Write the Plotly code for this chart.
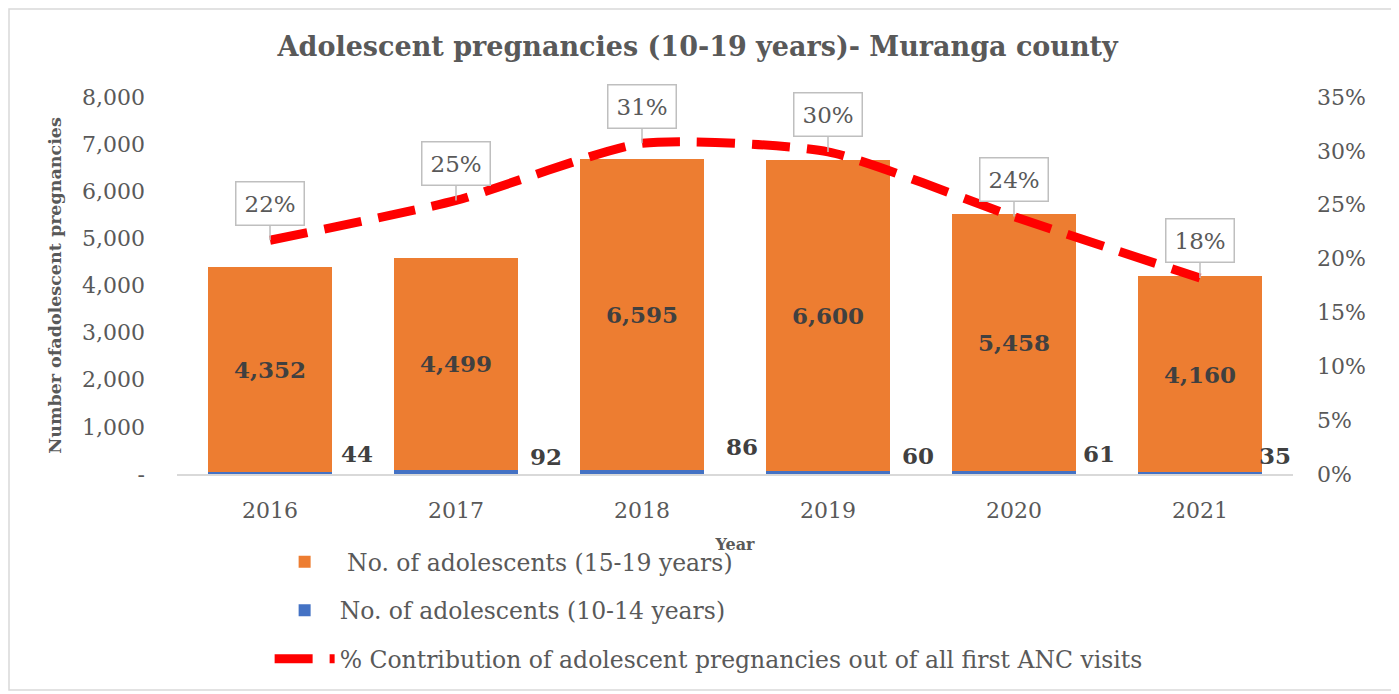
import plotly.graph_objects as go

years = ["2016", "2017", "2018", "2019", "2020", "2021"]
age_15_19 = [4352, 4499, 6595, 6600, 5458, 4160]
age_10_14 = [44, 92, 86, 60, 61, 35]
pct_contrib = [0.217, 0.254, 0.307, 0.299, 0.239, 0.182]

left_ticks = [0, 1000, 2000, 3000, 4000, 5000, 6000, 7000, 8000]
left_tick_text = ["-", "1,000", "2,000", "3,000", "4,000", "5,000", "6,000", "7,000", "8,000"]
right_ticks = [0, 0.05, 0.10, 0.15, 0.20, 0.25, 0.30, 0.35]

# label placement style for the small 10-14 labels (pixel offsets)
small_label_xshift = [87, 90, 100, 90, 85, 75]
small_label_yshift = [5, 2, 12, 3, 5, 3]

FONT = "DejaVu Serif"
GRAY = "#595959"
DARK = "#404040"

fig = go.Figure()

fig.add_trace(go.Bar(
    x=years, y=age_10_14, name="No. of adolescents (10-14 years)",
    marker=dict(color="#4472C4", line=dict(width=0)),
    legendrank=2, legendgroup="b",
))
fig.add_trace(go.Bar(
    x=years, y=age_15_19, name=" No. of adolescents (15-19 years)",
    marker=dict(color="#ED7D31", line=dict(width=0)),
    text=[f"{v:,}" for v in age_15_19], textposition="inside",
    insidetextanchor="middle",
    textfont=dict(family=FONT, size=23, color=DARK, weight="bold"),
    legendrank=1, legendgroup="a",
))
fig.add_trace(go.Scatter(
    x=years, y=pct_contrib, yaxis="y2", mode="lines",
    name="% Contribution of adolescent pregnancies out of all first ANC visits",
    line=dict(color="#FF0000", width=9, dash="38px,17px", shape="spline", smoothing=0.6),
    legendrank=3, legendgroup="c",
))

annotations = []
for i, v in enumerate(age_10_14):
    annotations.append(dict(
        x=i, y=0, xref="x", yref="y", text=f"<b>{v}</b>", showarrow=False,
        xshift=small_label_xshift[i], yanchor="bottom", yshift=small_label_yshift[i],
        font=dict(family=FONT, size=23, color=DARK),
    ))
for i, p in enumerate(pct_contrib):
    annotations.append(dict(
        x=i, y=p, xref="x", yref="y2", text=f"{round(p*100)}%",
        showarrow=True, ax=0, ay=-37, arrowhead=0, arrowwidth=1.5, arrowcolor="#BFBFBF",
        bordercolor="#BFBFBF", borderwidth=1.5, borderpad=8, bgcolor="white",
        font=dict(family=FONT, size=23, color=GRAY),
    ))

fig.update_layout(
    width=1399, height=694,
    barmode="stack", bargap=0.33,
    paper_bgcolor="white", plot_bgcolor="white",
    margin=dict(l=169, r=114, t=89, b=228),
    font=dict(family=FONT, color=GRAY),
    title=dict(text="<b>Adolescent pregnancies (10-19 years)- Muranga county</b>",
               x=0.493, xref="container", xanchor="center", y=0.944, yanchor="middle",
               font=dict(family=FONT, size=27, color=GRAY)),
    xaxis=dict(type="category", range=[-0.5, 5.5], showline=True, linecolor="#D9D9D9",
               linewidth=1.5, ticks="", ticklabelstandoff=16,
               tickfont=dict(family=FONT, size=22, color=GRAY),
               title=dict(text="<b>Year</b>", font=dict(family=FONT, size=16, color=GRAY), standoff=17)),
    yaxis=dict(range=[0, 8000], tickvals=left_ticks, ticktext=left_tick_text,
               showgrid=False, zeroline=False, ticks="", ticklabelstandoff=31,
               tickfont=dict(family=FONT, size=22, color=GRAY),
               title=dict(text="<b>Number ofadolescent pregnancies</b>",
                          font=dict(family=FONT, size=17.5, color=GRAY), standoff=15)),
    yaxis2=dict(range=[0, 0.35], tickvals=right_ticks, tickformat=".0%",
                overlaying="y", side="right", showgrid=False, zeroline=False,
                ticks="", ticklabelstandoff=23,
                tickfont=dict(family=FONT, size=22, color=GRAY)),
    legend=dict(orientation="v", x=0.083, xanchor="left", y=-0.175, yanchor="top",
                font=dict(family=FONT, size=23.5, color=GRAY), tracegroupgap=15,
                itemwidth=60, bgcolor="rgba(0,0,0,0)"),
    annotations=annotations,
    shapes=[dict(type="rect", xref="paper", yref="paper",
                 x0=(9-177)/1116, x1=(1393-177)/1116, y0=(474-690)/377, y1=(474-9)/377,
                 line=dict(color="#D9D9D9", width=1.5))],
)

fig.write_html("out.html")
